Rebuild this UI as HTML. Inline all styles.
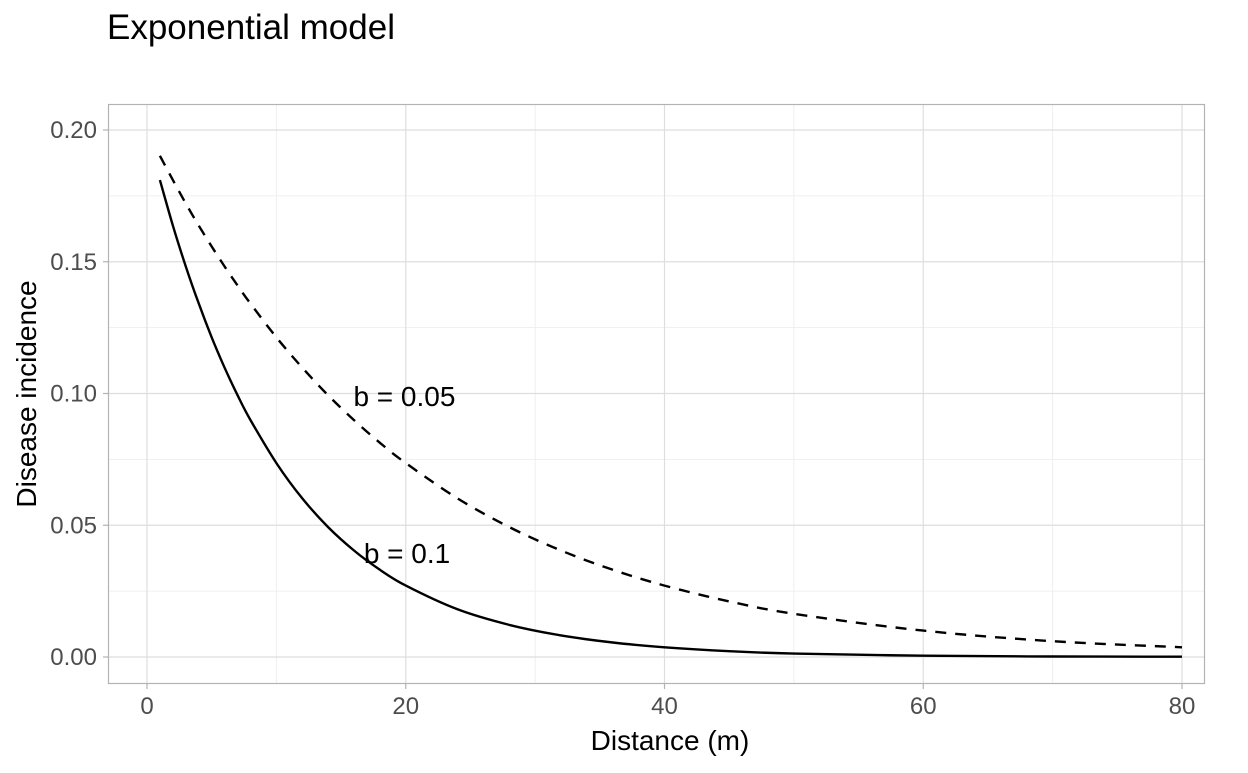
<!DOCTYPE html>
<html><head><meta charset="utf-8"><style>
body{margin:0;background:#fff;font-family:"Liberation Sans",sans-serif}
</style></head><body>
<svg id="c" width="1248" height="768" xmlns="http://www.w3.org/2000/svg">
<text x="107" y="39" font-size="35" fill="#000">Exponential model</text>
<g id="grid"></g>
<rect x="108.5" y="104.5" width="1096" height="579" fill="none" stroke="#b3b3b3" stroke-width="1.2"/>
<g id="marks"></g>
<text x="670" y="750" font-size="28" text-anchor="middle">Distance (m)</text>
<text transform="translate(36,394) rotate(-90)" font-size="28" text-anchor="middle">Disease incidence</text>
</svg>
<script>
const xs = [1,2,3,4,5,6,7,8,10,12,14,16,18,20,24,28,32,36,40,45,50,60,70,80];
const yB01 = [0.1810,0.1637,0.1482,0.1341,0.1213,0.1098,0.0993,0.0899,0.0736,0.0602,0.0493,0.0404,0.0331,0.0271,0.0181,0.0122,0.0082,0.0055,0.0037,0.0022,0.0013,0.0005,0.0002,0.0001];
const yB005 = [0.1902,0.1810,0.1721,0.1637,0.1558,0.1482,0.1410,0.1341,0.1213,0.1098,0.0993,0.0899,0.0813,0.0736,0.0602,0.0493,0.0404,0.0331,0.0271,0.0211,0.0164,0.0100,0.0060,0.0037];
const xTicks = [0,20,40,60,80];
const xMinor = [10,30,50,70];
const yTicks = [0,0.05,0.10,0.15,0.20];
const yTickLabels = ["0.00","0.05","0.10","0.15","0.20"];
const yMinor = [0.025,0.075,0.125,0.175];
const labelText = ["b = 0.05","b = 0.1"];
const labelX = [19.9,20.1];
const labelY = [0.099,0.0395];

const NS="http://www.w3.org/2000/svg";
const X=v=>147+v*(1182-147)/80;
const Y=v=>657-v*(657-130)/0.2;
const grid=document.getElementById('grid'), marks=document.getElementById('marks'), svg=document.getElementById('c');
function mk(tag,attrs,parent){const e=document.createElementNS(NS,tag);for(const k in attrs)e.setAttribute(k,attrs[k]);parent.appendChild(e);return e;}
xMinor.forEach(v=>{const l=mk('line',{x1:X(v),x2:X(v),y1:104,y2:683,stroke:'#ebebeb','stroke-width':0.8},grid);

});
yMinor.forEach(v=>{const l=mk('line',{x1:108,x2:1204,y1:Y(v),y2:Y(v),stroke:'#ebebeb','stroke-width':0.8},grid);

});
xTicks.forEach(v=>{const l=mk('line',{x1:X(v),x2:X(v),y1:104,y2:683,stroke:'#dedede','stroke-width':1.2},grid);


const t=mk('line',{x1:X(v),x2:X(v),y1:684,y2:689,stroke:'#b3b3b3','stroke-width':1.2},svg);


const tx=mk('text',{x:X(v),y:714,'font-size':24,fill:'#4d4d4d','text-anchor':'middle'},svg);tx.textContent=v;

});
yTicks.forEach((v,i)=>{const l=mk('line',{x1:108,x2:1204,y1:Y(v),y2:Y(v),stroke:'#dedede','stroke-width':1.2},grid);


const t=mk('line',{x1:103,x2:108,y1:Y(v),y2:Y(v),stroke:'#b3b3b3','stroke-width':1.2},svg);


const tx=mk('text',{x:97,y:Y(v)+8,'font-size':24,fill:'#4d4d4d','text-anchor':'end'},svg);tx.textContent=yTickLabels[i];

});
function path(ys){
  const p=xs.map((x,i)=>[X(x),Y(ys[i])]);
  let d='M'+p[0][0].toFixed(1)+','+p[0][1].toFixed(1);
  for(let i=0;i<p.length-1;i++){
    const p0=p[Math.max(0,i-1)],p1=p[i],p2=p[i+1],p3=p[Math.min(p.length-1,i+2)];
    const c1=[p1[0]+(p2[0]-p0[0])/6,p1[1]+(p2[1]-p0[1])/6];
    const c2=[p2[0]-(p3[0]-p1[0])/6,p2[1]-(p3[1]-p1[1])/6];
    d+='C'+c1[0].toFixed(1)+','+c1[1].toFixed(1)+' '+c2[0].toFixed(1)+','+c2[1].toFixed(1)+' '+p2[0].toFixed(1)+','+p2[1].toFixed(1);
  }
  return d;
}
const p1=mk('path',{d:path(yB01),fill:'none',stroke:'#000','stroke-width':2.4,'stroke-linejoin':'round'},marks);


const p2=mk('path',{d:path(yB005),fill:'none',stroke:'#000','stroke-width':2.4,'stroke-dasharray':'11,9'},marks);


labelText.forEach((s,i)=>{const t=mk('text',{x:X(labelX[i]),y:Y(labelY[i])+10,'font-size':28,'text-anchor':'middle',fill:'#000'},marks);t.textContent=s;

});
</script>
</body></html>
